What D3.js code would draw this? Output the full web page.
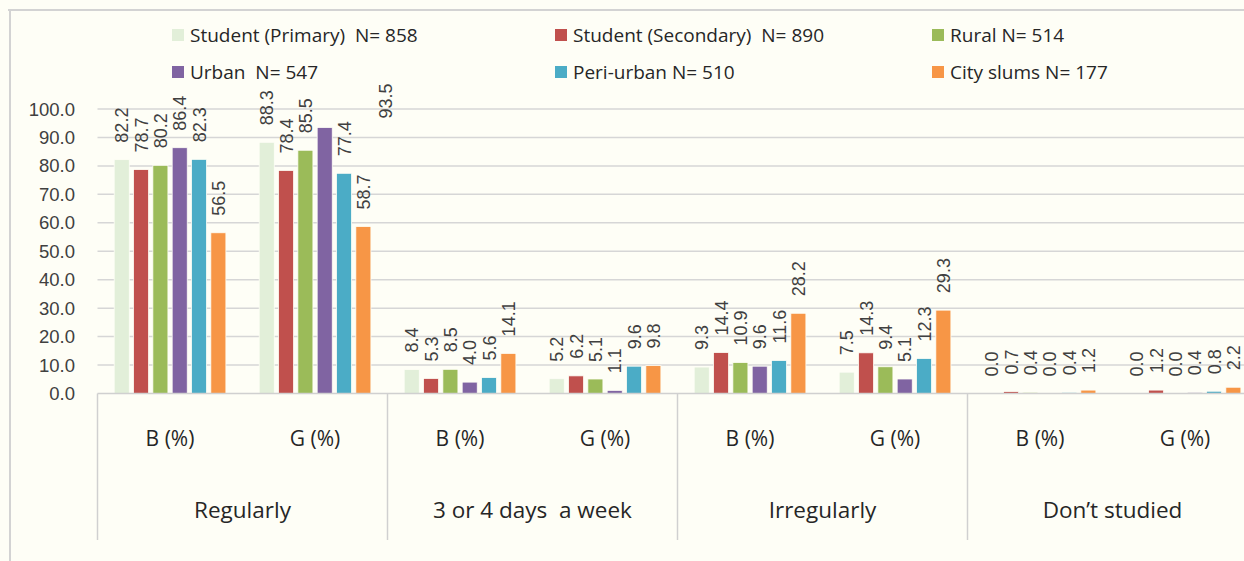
<!DOCTYPE html>
<html lang="en">
  <head>
    <meta charset="UTF-8">
    <title>Regularity of study</title>
    <style>
      body { margin: 0; background: #fefef6; }
      text { white-space: pre; }
      .grid line { stroke: #d6d6d6; stroke-width: 1.5; }
      .value { font-family: "Liberation Sans", Arial, sans-serif; font-size: 18px; fill: #404040; }
      .tick-label { font-family: "Liberation Sans", Arial, sans-serif; font-size: 18.5px; fill: #404040; }
      .legend text, .cat { font-family: "Open Sans", sans-serif; fill: #262626; }
    </style>
  </head>
  <body>
    <svg id="chart"></svg>

    <script src="https://cdn.jsdelivr.net/npm/d3@7/dist/d3.min.js"></script>

    <script>
      var groups = ["Regularly", "3 or 4 days  a week", "Irregularly", "Don\u2019t studied"];
      var sexes = ["B (%)", "G (%)"];
      var series = [
        "Student (Primary)  N= 858",
        "Student (Secondary)  N= 890",
        "Rural N= 514",
        "Urban  N= 547",
        "Peri-urban N= 510",
        "City slums N= 177"
      ];
      var colors = ["#e2efd9", "#c0504d", "#9bbb59", "#8064a2", "#4bacc6", "#f79646"];

      // one array per series, 8 values: Regularly B,G / 3-4 days B,G / Irregularly B,G / Don't B,G
      var primary   = [82.2, 88.3, 8.4, 5.2, 9.3, 7.5, 0.0, 0.0];
      var secondary = [78.7, 78.4, 5.3, 6.2, 14.4, 14.3, 0.7, 1.2];
      var rural     = [80.2, 85.5, 8.5, 5.1, 10.9, 9.4, 0.4, 0.0];
      var urban     = [86.4, 93.5, 4.0, 1.1, 9.6, 5.1, 0.0, 0.4];
      var periUrban = [82.3, 77.4, 5.6, 9.6, 11.6, 12.3, 0.4, 0.8];
      var slums     = [56.5, 58.7, 14.1, 9.8, 28.2, 29.3, 1.2, 2.2];
      var yTicks = [0, 10, 20, 30, 40, 50, 60, 70, 80, 90, 100];

      var values = [primary, secondary, rural, urban, periUrban, slums];

      var width = 1244, height = 561;
      var svg = d3.select("#chart").attr("width", width).attr("height", height);

      // outer frame (top and left edges visible)
      svg.append("line").attr("x1", 8).attr("x2", width).attr("y1", 10).attr("y2", 10)
        .attr("stroke", "#d3d3d3").attr("stroke-width", 2);
      svg.append("line").attr("x1", 10).attr("x2", 10).attr("y1", 10).attr("y2", height)
        .attr("stroke", "#d3d3d3").attr("stroke-width", 2);

      var left = 97.5, bandW = 145;
      var subKeys = [];
      groups.forEach(function(g, gi) {
        sexes.forEach(function(s, si) { subKeys.push(gi * 2 + si); });
      });

      var x0 = d3.scaleBand().domain(subKeys).range([left, left + bandW * subKeys.length]);
      var x1 = d3.scaleBand().domain(d3.range(series.length))
        .range([16.7, 128.4]).paddingInner(0.22).paddingOuter(0);
      var y = d3.scaleLinear().domain([0, 100]).range([393.5, 109]);

      // gridlines
      svg.append("g").attr("class", "grid")
        .selectAll("line").data(yTicks.slice(1)).enter().append("line")
        .attr("x1", left).attr("x2", width)
        .attr("y1", function(d) { return y(d); })
        .attr("y2", function(d) { return y(d); });

      // y axis labels
      svg.append("g").selectAll("text").data(yTicks).enter().append("text")
        .attr("class", "tick-label")
        .attr("x", 75)
        .attr("y", function(d) { return y(d) + 6.5; })
        .attr("text-anchor", "end")
        .text(function(d) { return d3.format(".1f")(d); });

      // bars
      var sub = svg.append("g").selectAll("g").data(subKeys).enter().append("g")
        .attr("transform", function(k) { return "translate(" + x0(k) + ",0)"; });

      sub.selectAll("rect")
        .data(function(k) { return values.map(function(v, i) { return { s: i, v: v[k] }; }); })
        .enter().append("rect")
        .attr("x", function(d) { return x1(d.s); })
        .attr("width", x1.bandwidth())
        .attr("y", function(d) { return y(d.v); })
        .attr("height", function(d) { return y(0) - y(d.v); })
        .attr("fill", function(d) { return colors[d.s]; })
        .attr("stroke", "#fefef6")
        .attr("stroke-width", 0.8);

      // x axis line and category box
      svg.append("line").attr("x1", left).attr("x2", width).attr("y1", y(0)).attr("y2", y(0))
        .attr("stroke", "#d0d0d0").attr("stroke-width", 1.5);
      svg.append("g").selectAll("line").data(d3.range(groups.length + 1)).enter().append("line")
        .attr("x1", function(i) { return left + i * bandW * 2; })
        .attr("x2", function(i) { return left + i * bandW * 2; })
        .attr("y1", y(0)).attr("y2", 540)
        .attr("stroke", "#d0d0d0").attr("stroke-width", 1.5);

      // value labels (rotated)
      sub.selectAll("text.value")
        .data(function(k) { return values.map(function(v, i) { return { s: i, v: v[k], k: k }; }); })
        .enter().append("text")
        .attr("class", "value")
        .attr("transform", function(d) {
          var cx = x1(d.s) + x1.bandwidth() / 2, cy = y(d.v) - 17;
          // the 93.5 label sits off to the right in the original
          if (d.k === 1 && d.s === 3) { cx += 61; cy += 8; }
          return "translate(" + (cx + 6.5) + "," + cy + ") rotate(-90)";
        })
        .text(function(d) { return d3.format(".1f")(d.v); });

      // sub-category labels
      svg.append("g").selectAll("text").data(subKeys).enter().append("text")
        .attr("class", "cat")
        .attr("x", function(k) { return x0(k) + bandW / 2; })
        .attr("y", 446)
        .attr("text-anchor", "middle")
        .style("font-size", "21px")
        .text(function(k) { return sexes[k % 2]; });

      // group labels
      svg.append("g").selectAll("text").data(groups).enter().append("text")
        .attr("class", "cat")
        .attr("x", function(g, i) { return left + i * bandW * 2 + bandW; })
        .attr("y", 518)
        .attr("text-anchor", "middle")
        .style("font-size", "22.5px")
        .text(function(g) { return g; });

      // legend
      var legX = [172, 555, 932], legY = [35, 72];
      var leg = svg.append("g").attr("class", "legend").selectAll("g").data(series).enter().append("g")
        .attr("transform", function(d, i) {
          return "translate(" + legX[i % 3] + "," + legY[Math.floor(i / 3)] + ")";
        });
      leg.append("rect").attr("x", 0).attr("y", -6).attr("width", 12).attr("height", 12)
        .attr("fill", function(d, i) { return colors[i]; });
      leg.append("text").attr("x", 18).attr("y", 7)
        .style("font-size", "19px")
        .text(function(d) { return d; });
    </script>
  </body>
</html>
